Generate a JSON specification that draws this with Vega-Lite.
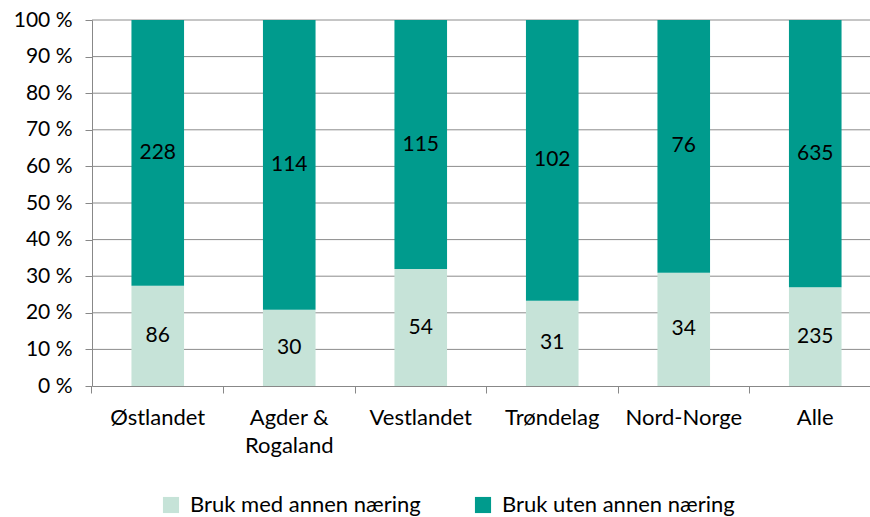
{
  "$schema": "https://vega.github.io/schema/vega-lite/v6.json",
  "autosize": {"type": "none"},
  "width": 789,
  "height": 366,
  "padding": {"left": 92, "top": 20, "right": 0, "bottom": 131},
  "background": "white",
  "config": {
    "font": "Lato",
    "view": {"stroke": null},
    "axis": {"labelFont": "Lato", "labelFontSize": 20, "labelColor": "#000000", "domainColor": "#888888", "tickColor": "#888888", "gridColor": "#8c8c8c", "title": null}
  },
  "datasets": {
    "bars": [
      {"region": "Østlandet", "type": "Bruk med annen næring", "ord": 1, "n": 86},
      {"region": "Østlandet", "type": "Bruk uten annen næring", "ord": 2, "n": 228},
      {"region": "Agder & Rogaland", "type": "Bruk med annen næring", "ord": 1, "n": 30},
      {"region": "Agder & Rogaland", "type": "Bruk uten annen næring", "ord": 2, "n": 114},
      {"region": "Vestlandet", "type": "Bruk med annen næring", "ord": 1, "n": 54},
      {"region": "Vestlandet", "type": "Bruk uten annen næring", "ord": 2, "n": 115},
      {"region": "Trøndelag", "type": "Bruk med annen næring", "ord": 1, "n": 31},
      {"region": "Trøndelag", "type": "Bruk uten annen næring", "ord": 2, "n": 102},
      {"region": "Nord-Norge", "type": "Bruk med annen næring", "ord": 1, "n": 34},
      {"region": "Nord-Norge", "type": "Bruk uten annen næring", "ord": 2, "n": 76},
      {"region": "Alle", "type": "Bruk med annen næring", "ord": 1, "n": 235},
      {"region": "Alle", "type": "Bruk uten annen næring", "ord": 2, "n": 635}
    ],
    "gridlines": [
      {"g": 0.1}, {"g": 0.2}, {"g": 0.3}, {"g": 0.4}, {"g": 0.5},
      {"g": 0.6}, {"g": 0.7}, {"g": 0.8}, {"g": 0.9}, {"g": 1.0}
    ]
  },
  "resolve": {"axis": {"y": "independent"}},
  "layer": [
    {
      "data": {"name": "gridlines"},
      "mark": {"type": "rule", "color": "#8c8c8c", "strokeWidth": 1},
      "encoding": {
        "y": {"field": "g", "type": "quantitative", "scale": {"domain": [0, 1]}, "axis": null}
      }
    },
    {
      "data": {"name": "bars"},
      "transform": [
        {"stack": "n", "groupby": ["region"], "sort": [{"field": "ord", "order": "ascending"}], "offset": "normalize", "as": ["y0", "y1"]}
      ],
      "mark": {"type": "bar"},
      "encoding": {
        "x": {
          "field": "region", "type": "nominal",
          "sort": ["Østlandet", "Agder & Rogaland", "Vestlandet", "Trøndelag", "Nord-Norge", "Alle"],
          "scale": {"paddingInner": 0.6, "paddingOuter": 0.3},
          "axis": {"labelAngle": 0, "bandPosition": -0.75, "tickSize": 7, "labelPadding": 14, "labelLineHeight": 28, "labelBaseline": "top", "labelFontSize": 22, "grid": false,
                   "labelExpr": "datum.value == 'Agder & Rogaland' ? ['Agder &', 'Rogaland'] : datum.value"}
        },
        "y": {"field": "y0", "type": "quantitative", "scale": {"domain": [0, 1]},
              "axis": {"values": [0, 0.1, 0.2, 0.3, 0.4, 0.5, 0.6, 0.7, 0.8, 0.9, 1], "grid": false, "tickSize": 7, "labelPadding": 13, "labelOverlap": false, "labelFontSize": 21,
                       "labelExpr": "format(datum.value * 100, 'd') + ' %'"}},
        "y2": {"field": "y1"},
        "color": {"field": "type", "type": "nominal",
                  "scale": {"domain": ["Bruk med annen næring", "Bruk uten annen næring"], "range": ["#c6e3d8", "#009b8d"]},
                  "legend": {"title": null, "orient": "none", "direction": "horizontal", "legendX": 68, "legendY": 474,
                             "labelFontSize": 22, "labelFont": "Lato", "labelColor": "#000000", "symbolType": "square", "symbolSize": 260,
                             "symbolStrokeWidth": 0, "columnPadding": 51, "labelOffset": 8, "labelLimit": 0}}
      }
    },
    {
      "data": {"name": "bars"},
      "transform": [
        {"stack": "n", "groupby": ["region"], "sort": [{"field": "ord", "order": "ascending"}], "offset": "normalize", "as": ["y0", "y1"]},
        {"calculate": "(datum.y0 + datum.y1) / 2", "as": "ymid"}
      ],
      "mark": {"type": "text", "fontSize": 21, "font": "Lato", "color": "#000000"},
      "encoding": {
        "x": {
          "field": "region", "type": "nominal",
          "sort": ["Østlandet", "Agder & Rogaland", "Vestlandet", "Trøndelag", "Nord-Norge", "Alle"],
          "scale": {"paddingInner": 0.6, "paddingOuter": 0.3}
        },
        "y": {"field": "ymid", "type": "quantitative", "scale": {"domain": [0, 1]}, "axis": null},
        "text": {"field": "n", "type": "quantitative"}
      }
    }
  ]
}
